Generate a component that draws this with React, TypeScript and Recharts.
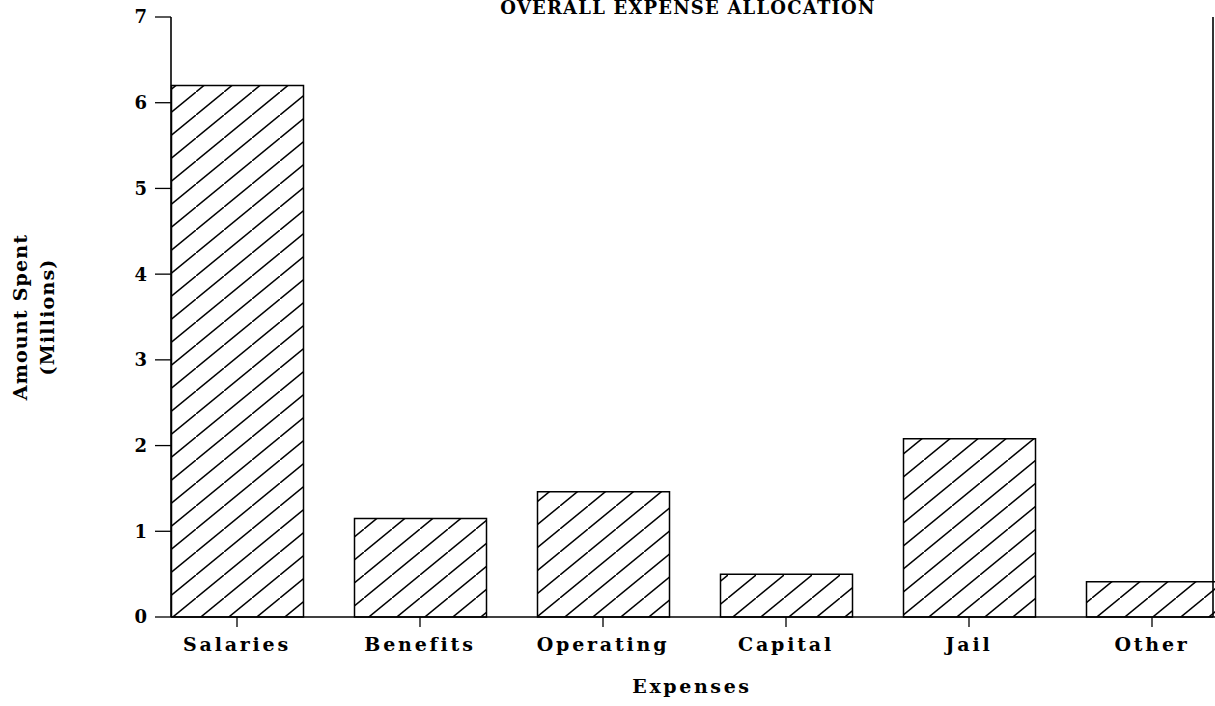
import { BarChart, Bar, XAxis, YAxis } from 'recharts';

const categories = ['Salaries', 'Benefits', 'Operating', 'Capital', 'Jail', 'Other'];
const amounts = [6.2, 1.15, 1.46, 0.5, 2.08, 0.41];
const yTicks = [0, 1, 2, 3, 4, 5, 6, 7];

const data = categories.map((category, i) => ({ category, amount: amounts[i] }));

const FONT = '"DejaVu Serif", serif';
const ink = '#000';

export default function App() {
  return (
    <div style={{ position: 'absolute', left: 0, top: 0, background: '#fff' }}>
      <BarChart
        width={1215}
        height={706}
        data={data}
        margin={{ top: 17, right: 0, left: 0, bottom: 0 }}
      >
        <defs>
          {/* "/" hatching, rise 23 over 28 */}
          <pattern id="hatch" patternUnits="userSpaceOnUse" width={28} height={23}>
            <line x1={0} y1={23} x2={28} y2={0} stroke={ink} strokeWidth={1.5} />
          </pattern>
        </defs>

        <text
          x={688}
          y={14}
          textAnchor="middle"
          fontFamily={FONT}
          fontWeight={700}
          fontSize={18}
          letterSpacing={1.2}
          fill={ink}
        >
          OVERALL EXPENSE ALLOCATION
        </text>
        <text
          transform="translate(27 317) rotate(-90)"
          textAnchor="middle"
          fontFamily={FONT}
          fontWeight={700}
          fontSize={19}
          letterSpacing={1.2}
          fill={ink}
        >
          Amount Spent
        </text>
        <text
          transform="translate(54 317) rotate(-90)"
          textAnchor="middle"
          fontFamily={FONT}
          fontWeight={700}
          fontSize={19}
          letterSpacing={1.2}
          fill={ink}
        >
          (Millions)
        </text>

        <XAxis
          dataKey="category"
          type="category"
          height={89}
          padding={{ left: -25.5, right: -30.5 }}
          axisLine={{ stroke: ink, strokeWidth: 1.6 }}
          tickLine={{ stroke: ink, strokeWidth: 1.3 }}
          tickSize={10}
          tickMargin={11}
          tick={{ fill: ink, fontSize: 19, fontFamily: FONT, fontWeight: 700, letterSpacing: 2.8 }}
          label={{
            value: 'Expenses',
            position: 'insideBottom',
            offset: 13,
            fill: ink,
            fontSize: 19,
            fontFamily: FONT,
            fontWeight: 700,
            letterSpacing: 2.6,
          }}
        />
        <XAxis
          xAxisId="top"
          dataKey="category"
          orientation="top"
          height={0}
          tick={false}
          tickLine={false}
          axisLine={{ stroke: ink, strokeWidth: 1.6 }}
        />
        <YAxis
          type="number"
          domain={[0, 7]}
          ticks={yTicks}
          width={171}
          interval={0}
          axisLine={{ stroke: ink, strokeWidth: 1.6 }}
          tickLine={{ stroke: ink, strokeWidth: 1.3 }}
          tickSize={16}
          tickMargin={8}
          tick={{ fill: ink, fontSize: 18, fontFamily: FONT, fontWeight: 700 }}
        />
        <YAxis
          yAxisId="right"
          orientation="right"
          width={2}
          domain={[0, 7]}
          tick={false}
          tickLine={false}
          axisLine={{ stroke: ink, strokeWidth: 1.6 }}
        />

        <Bar
          dataKey="amount"
          barSize={132}
          fill="url(#hatch)"
          stroke={ink}
          strokeWidth={1.5}
          isAnimationActive={false}
        />
      </BarChart>
    </div>
  );
}
